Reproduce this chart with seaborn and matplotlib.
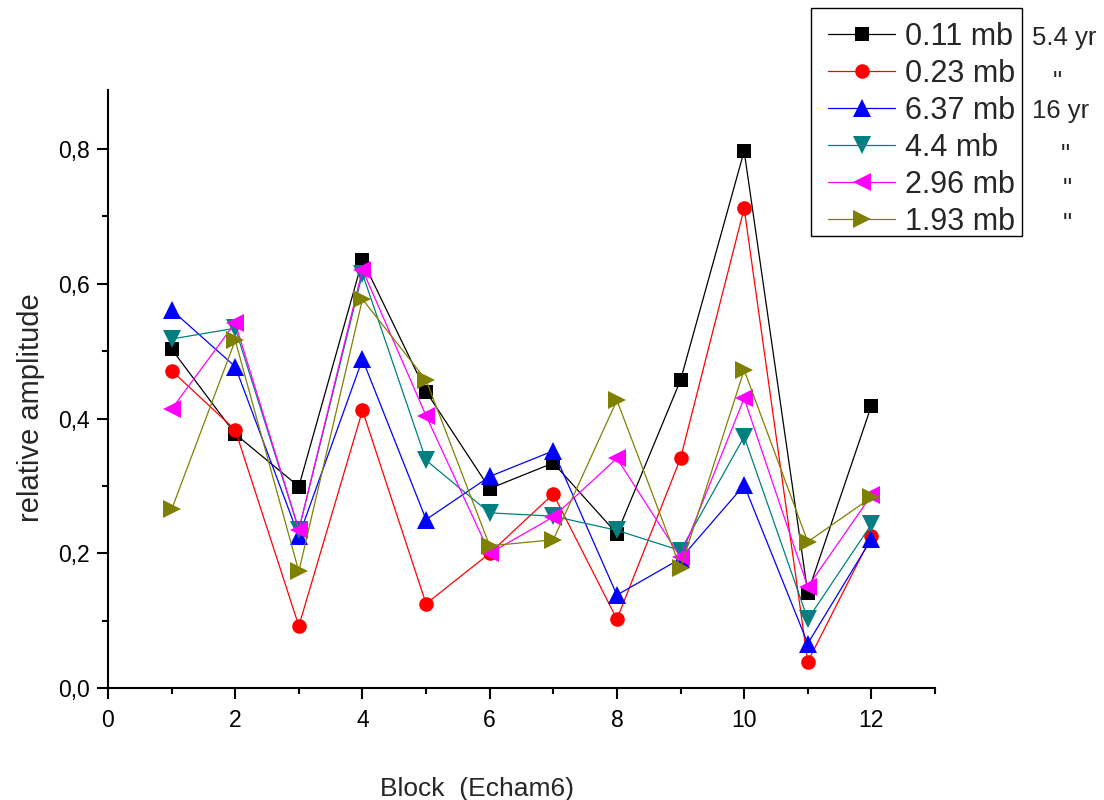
import numpy as np
import pandas as pd
import matplotlib
matplotlib.use("Agg")
import matplotlib.pyplot as plt
import seaborn as sns
from matplotlib.patches import Rectangle
from matplotlib.ticker import FuncFormatter, MultipleLocator

blocks = [1, 2, 3, 4, 5, 6, 7, 8, 9, 10, 11, 12]
labels = ["0.11 mb", "0.23 mb", "6.37 mb", "4.4 mb", "2.96 mb", "1.93 mb"]
notes = ["5.4 yr", '"', "16 yr", '"', '"', '"']
s_011 = [0.503, 0.377, 0.299, 0.635, 0.440, 0.296, 0.334, 0.229, 0.457, 0.797, 0.141, 0.419]
s_023 = [0.471, 0.383, 0.092, 0.412, 0.125, 0.200, 0.288, 0.102, 0.341, 0.712, 0.039, 0.225]
s_637 = [0.561, 0.477, 0.225, 0.488, 0.250, 0.314, 0.352, 0.138, 0.192, 0.301, 0.066, 0.221]
s_44 = [0.518, 0.534, 0.235, 0.615, 0.338, 0.260, 0.255, 0.234, 0.204, 0.373, 0.102, 0.243]
s_296 = [0.414, 0.542, 0.235, 0.621, 0.404, 0.200, 0.254, 0.341, 0.194, 0.430, 0.150, 0.286]
s_193 = [0.265, 0.516, 0.173, 0.577, 0.457, 0.211, 0.220, 0.427, 0.178, 0.472, 0.217, 0.283]
series = [s_011, s_023, s_637, s_44, s_296, s_193]

colors = ["#000000", "#FF0000", "#0000FF", "#008080", "#FF00FF", "#808000"]
markers = ["s", "o", "^", "v", "<", ">"]
msizes = [9.5, 10.5, 12.5, 12.5, 12.5, 12.5]

rows = []
for lab, vals in zip(labels, series):
    for b, v in zip(blocks, vals):
        rows.append({"block": b, "amp": v, "series": lab})
df = pd.DataFrame(rows)

sns.set_style("ticks")
plt.rcParams["font.family"] = ["Liberation Sans", "DejaVu Sans"]

W, H = 1104, 800
fig = plt.figure(figsize=(11.04, 8), dpi=100)
ax = fig.add_axes([108 / W, 1 - 688 / H, (935 - 108) / W, (688 - 90) / H])

sns.lineplot(data=df, x="block", y="amp", hue="series", style="series",
             hue_order=labels, style_order=labels,
             palette=dict(zip(labels, colors)), markers=dict(zip(labels, markers)),
             dashes=False, markersize=10, markeredgewidth=0, linewidth=0.9,
             ax=ax, legend=False)
for ln, ms in zip(ax.lines, msizes):
    ln.set_markersize(ms)

ax.set_xlim(0, 13)
ax.set_ylim(0, 0.8876)
ax.xaxis.set_major_locator(MultipleLocator(2))
ax.xaxis.set_minor_locator(MultipleLocator(1))
ax.yaxis.set_major_locator(MultipleLocator(0.2))
ax.yaxis.set_minor_locator(MultipleLocator(0.1))
ax.yaxis.set_major_formatter(FuncFormatter(lambda v, p: f"{v:.1f}".replace(".", ",")))
ax.xaxis.set_major_formatter(FuncFormatter(lambda v, p: f"{int(round(v))}"))
for s in ["top", "right"]:
    ax.spines[s].set_visible(False)
for s in ["left", "bottom"]:
    ax.spines[s].set_linewidth(1.5)
    ax.spines[s].set_color("black")
ax.tick_params(which="major", direction="out", length=8, width=1.5, labelsize=16.5, colors="black", pad=5)
ax.tick_params(axis="x", which="major", pad=7)
ax.tick_params(which="minor", direction="out", length=4.5, width=1.5, colors="black")

ax.set_xlabel("Block  (Echam6)", fontsize=19)
ax.xaxis.set_label_coords((476.7 - 108) / 827, (688 - 796) / 598)
ax.xaxis.label.set_va("baseline")
ax.set_ylabel("relative amplitude", fontsize=21)
ax.yaxis.set_label_coords((31 - 108) / 827, (688 - 407.5) / 598)
ax.yaxis.label.set_va("center")

# legend frame (Origin-style box)
frame = Rectangle((811 / W, 1 - 236 / H), (1022 - 811) / W, (236 - 8) / H,
                  transform=fig.transFigure, facecolor="white", edgecolor="black",
                  linewidth=1.0, zorder=5)
fig.patches.append(frame)

handles = ax.lines[:len(labels)]
leg = fig.legend(handles, labels, loc="upper left", bbox_to_anchor=(828 / W, 1 - 22 / H),
                 bbox_transform=fig.transFigure, borderaxespad=0, fontsize=22,
                 frameon=False, handlelength=2.2, handletextpad=0.33,
                 labelspacing=0.23, numpoints=1, borderpad=0)
leg.set_zorder(6)

note_x = [1064, 1057, 1061, 1065, 1067, 1067]
note_base = [45, 89, 118, 162, 196, 231]
for t, x, y in zip(notes, note_x, note_base):
    fig.text(x / W, 1 - y / H, t, fontsize=18.5, ha="center", va="baseline")

fig.savefig("out.png", dpi=100)
